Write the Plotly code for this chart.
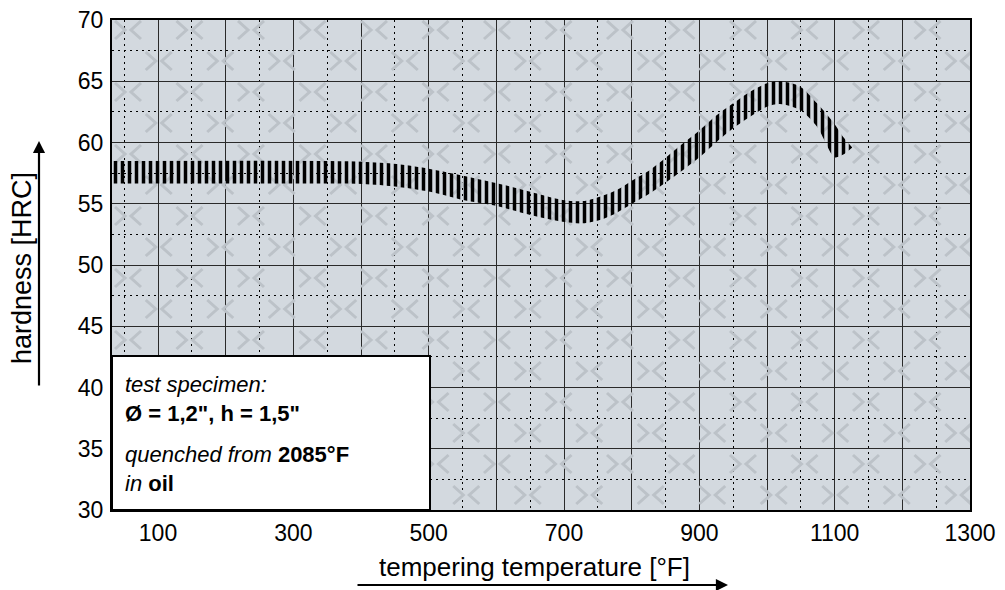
import numpy as np
import plotly.graph_objects as go

# ---- data ----
temp_F = [32, 354, 403, 453, 502, 551, 601, 650, 698, 728, 753, 778, 802, 827, 852,
          876, 901, 926, 950, 975, 1000, 1019, 1049, 1074, 1100, 1112, 1126]
hrc_upper = [58.5, 58.5, 58.43, 58.24, 57.84, 57.29, 56.67, 55.98, 55.31, 55.22, 55.58,
             56.12, 56.94, 57.76, 58.84, 59.93, 61.02, 62.24, 63.2, 64.15, 64.83, 65.02,
             64.56, 63.2, 61.5, 60.5, 59.6]
hrc_lower = [56.65, 56.65, 56.61, 56.39, 55.98, 55.31, 54.82, 54.08, 53.53, 53.40, 53.67,
             54.27, 55.04, 55.85, 56.80, 57.76, 58.84, 60.07, 61.16, 62.11, 62.92, 63.14,
             62.65, 61.29, 58.8, 59.0, 59.6]

x_tick_vals = [100, 200, 300, 400, 500, 600, 700, 800, 900, 1000, 1100, 1200, 1300]
x_tick_text = ["100", "", "300", "", "500", "", "700", "", "900", "", "1100", "", "1300"]
y_tick_vals = [30, 35, 40, 45, 50, 55, 60, 65, 70]
y_tick_text = ["30", "35", "40", "45", "50", "55", "60", "65", "70"]

X_RANGE = [32, 1300]
Y_RANGE = [30, 70]

FONT = "Liberation Sans, Arial, sans-serif"

# plot area in pixels
W, H = 1005, 590
ML, MR, MT, MB = 112, 35, 20, 80
PW, PH = W - ML - MR, H - MT - MB


def px2x(px):
    return X_RANGE[0] + (px - ML) * (X_RANGE[1] - X_RANGE[0]) / PW


def py2y(py):
    return Y_RANGE[1] - (py - MT) * (Y_RANGE[1] - Y_RANGE[0]) / PH


# ---- decorative watermark of chevrons ----
wm_x, wm_y = [], []
cw, chh, gap = 10, 9, 3
for i in range(17):
    cy = 30 + 31 * i
    off = 30.75 if i % 2 else 0
    for j in range(-1, 15):
        cx = 128 + 61.5 * j + off
        for (a, b) in [(cx - gap - cw, cy - chh), (cx - gap, cy), (cx - gap - cw, cy + chh)]:
            wm_x.append(px2x(a)); wm_y.append(py2y(b))
        wm_x.append(None); wm_y.append(None)
        for (a, b) in [(cx + gap + cw, cy - chh), (cx + gap, cy), (cx + gap + cw, cy + chh)]:
            wm_x.append(px2x(a)); wm_y.append(py2y(b))
        wm_x.append(None); wm_y.append(None)

fig = go.Figure()

fig.add_trace(go.Scatter(x=wm_x, y=wm_y, mode="lines",
                         line=dict(color="#bcc2c8", width=3),
                         hoverinfo="skip", showlegend=False))

fig.add_trace(go.Scatter(x=temp_F, y=hrc_lower, mode="lines",
                         line=dict(width=0, shape="spline", smoothing=0.8),
                         showlegend=False, hoverinfo="skip"))
fig.add_trace(go.Scatter(x=temp_F, y=hrc_upper, mode="lines",
                         line=dict(width=0, shape="spline", smoothing=0.8),
                         fill="tonexty", fillcolor="rgba(0,0,0,0)",
                         fillpattern=dict(shape="|", fgcolor="black", fgopacity=1,
                                          bgcolor="rgba(0,0,0,0)",
                                          size=7, solidity=0.5),
                         showlegend=False, hoverinfo="skip"))

fig.update_xaxes(range=X_RANGE, tickvals=x_tick_vals, ticktext=x_tick_text,
                 showgrid=True, gridcolor="#2a2a2a", gridwidth=1.3,
                 minor=dict(dtick=50, tick0=50, showgrid=True, gridcolor="black",
                            gridwidth=1.3, griddash="2px,4px"),
                 showline=True, linecolor="black", linewidth=2, mirror=True,
                 ticks="", ticklabelstandoff=1, zeroline=False, automargin=False,
                 tickfont=dict(family=FONT, size=23, color="black"))
fig.update_yaxes(range=Y_RANGE, tickvals=y_tick_vals, ticktext=y_tick_text,
                 showgrid=True, gridcolor="#2a2a2a", gridwidth=1.3,
                 minor=dict(dtick=2.5, tick0=2.5, showgrid=True, gridcolor="black",
                            gridwidth=1.3, griddash="2px,4px"),
                 showline=True, linecolor="black", linewidth=2, mirror=True,
                 ticks="", ticklabelstandoff=2, zeroline=False, automargin=False,
                 tickfont=dict(family=FONT, size=23, color="black"))


def pxp(px):
    return (px - ML) / PW


def pyp(py):
    return (H - MB - py) / PH


shapes = [dict(type="rect", xref="paper", yref="paper",
               x0=0, x1=pxp(430), y0=0, y1=pyp(356),
               fillcolor="white", line=dict(color="black", width=2), layer="above")]

annotations = [
    dict(text="<i>test specimen:</i><br><b>Ø = 1,2\", h = 1,5\"</b>", x=pxp(123), y=pyp(399)),
    dict(text="<i>quenched from</i> <b>2085°F</b><br><i>in</i> <b>oil</b>", x=pxp(123), y=pyp(469)),
]
for a in annotations:
    a.update(xref="paper", yref="paper", xanchor="left", yanchor="middle", align="left",
             showarrow=False, font=dict(family=FONT, size=22, color="black"))

annotations += [
    dict(text="tempering temperature [°F]", xref="paper", yref="paper",
         x=pxp(534), y=pyp(567), xanchor="center", yanchor="middle", showarrow=False,
         font=dict(family=FONT, size=26, color="black")),
    dict(text="hardness [HRC]", xref="paper", yref="paper",
         x=pxp(22), y=pyp(268), xanchor="center", yanchor="middle", showarrow=False,
         textangle=-90, font=dict(family=FONT, size=27, color="black")),
    dict(text="", xref="paper", yref="paper", x=pxp(728), y=pyp(585),
         ax=-372, ay=0, axref="pixel", ayref="pixel", showarrow=True,
         arrowhead=2, arrowsize=1.1, arrowwidth=2.2, arrowcolor="black"),
    dict(text="", xref="paper", yref="paper", x=pxp(39), y=pyp(141),
         ax=0, ay=246, axref="pixel", ayref="pixel", showarrow=True,
         arrowhead=2, arrowsize=1.1, arrowwidth=2.2, arrowcolor="black"),
]

fig.update_layout(width=W, height=H,
                  margin=dict(l=ML, r=MR, t=MT, b=MB, autoexpand=False),
                  plot_bgcolor="#d3d9df", paper_bgcolor="white",
                  shapes=shapes, annotations=annotations,
                  font=dict(family=FONT, color="black"))

fig.write_html("out.html", config={"displayModeBar": False},
               post_script="document.body.style.margin='0px';document.body.style.padding='0px';")
